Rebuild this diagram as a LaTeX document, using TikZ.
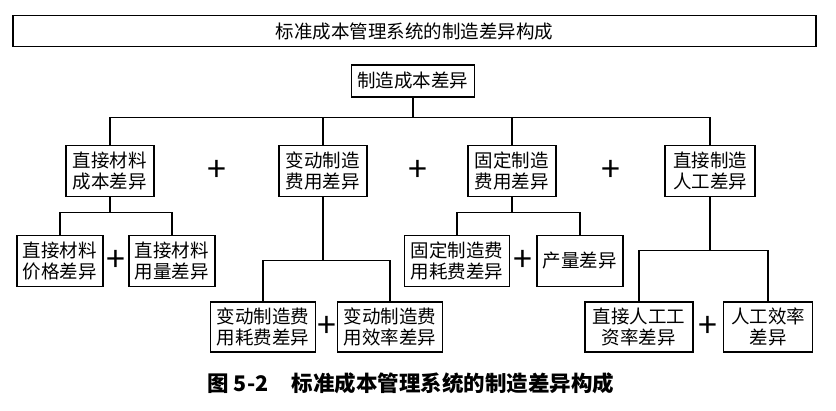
\documentclass[tikz,border=0pt]{standalone}
\usepackage{fontspec}
\setmainfont{Noto Sans CJK SC}
\usetikzlibrary{calc}
\tikzstyle{banner} = [rectangle, minimum width=803pt, minimum height=31pt, text centered, draw=black, line width=1.4pt]
\tikzstyle{item} = [rectangle, minimum height=51pt, inner xsep=6pt, align=center, draw=black, line width=1.4pt]
\tikzstyle{plus} = [font=\fontsize{34}{34}\selectfont]
\tikzstyle{link} = [line width=1.4pt]

\begin{document}
\begin{tikzpicture}[node distance=90pt, font=\fontsize{18.5}{21}\selectfont]
\useasboundingbox (-413pt,81pt) rectangle (423pt,-329pt);
\node (root) [item, minimum height=32pt] {制造成本差异};
\node (title) [banner, above of=root, yshift=-40pt, xshift=1.5pt] {标准成本管理系统的制造差异构成};
\node (mat) [item, minimum width=88pt, below of=root, xshift=-303pt] {直接材料\\成本差异};
\node (var) [item, minimum width=88pt, below of=root, xshift=-90pt] {变动制造\\费用差异};
\node (fix) [item, minimum width=88pt, below of=root, xshift=99pt] {固定制造\\费用差异};
\node (lab) [item, minimum width=90pt, below of=root, xshift=297pt] {直接制造\\人工差异};
\node (mat1) [item, below of=mat, xshift=-50pt] {直接材料\\价格差异};
\node (mat2) [item, below of=mat, xshift=62pt] {直接材料\\用量差异};
\node (var1) [item, minimum height=50pt, below of=var, yshift=-66pt, xshift=-60pt] {变动制造费\\用耗费差异};
\node (var2) [item, minimum height=50pt, below of=var, yshift=-66pt, xshift=67pt] {变动制造费\\用效率差异};
\node (fix1) [item, below of=fix, xshift=-55pt] {固定制造费\\用耗费差异};
\node (fix2) [item, minimum width=85pt, below of=fix, xshift=68pt] {产量差异};
\node (lab1) [item, minimum width=108pt, minimum height=50pt, below of=lab, yshift=-66pt, xshift=-71pt] {直接人工工\\资率差异};
\node (lab2) [item, minimum width=89pt, minimum height=50pt, below of=lab, yshift=-66pt, xshift=58pt] {人工效率\\差异};
\node (caption) [below of=root, yshift=-212pt, xshift=-2pt, font=\fontsize{21.5}{24}\selectfont\bfseries] {图 5-2\hspace{1.1em}标准成本管理系统的制造差异构成};
% plus signs
\node (p1) [plus] at ($(mat.east)!0.5!(var.west)$) {+};
\node (p2) [plus] at ($(var.east)!0.5!(fix.west)$) {+};
\node (p3) [plus] at ($(fix.east)!0.5!(lab.west)$) {+};
\node (p4) [plus] at ($(mat1.east)!0.5!(mat2.west)$) {+};
\node (p5) [plus] at ($(var1.east)!0.5!(var2.west)$) {+};
\node (p6) [plus] at ($(fix1.east)!0.5!(fix2.west)$) {+};
\node (p7) [plus] at ($(lab1.east)!0.5!(lab2.west)$) {+};
% tree lines
\draw [link] (root.south) -- ++(0,-20pt) -| (mat.north);
\draw [link] (root.south) -- ++(0,-20pt) -| (var.north);
\draw [link] (root.south) -- ++(0,-20pt) -| (fix.north);
\draw [link] (root.south) -- ++(0,-20pt) -| (lab.north);
\draw [link] (mat.south) -- ++(0,-15pt) -| (mat1.north);
\draw [link] (mat.south) -- ++(0,-15pt) -| (mat2.north);
\draw [link] (var.south) -- ++(0,-63pt) -| (var1.north);
\draw [link] (var.south) -- ++(0,-63pt) -| (var2.north);
\draw [link] (fix.south) -- ++(0,-15pt) -| (fix1.north);
\draw [link] (fix.south) -- ++(0,-15pt) -| (fix2.north);
\draw [link] (lab.south) -- ++(0,-53pt) -| (lab1.north);
\draw [link] (lab.south) -- ++(0,-53pt) -| (lab2.north);
\end{tikzpicture}
\end{document}
